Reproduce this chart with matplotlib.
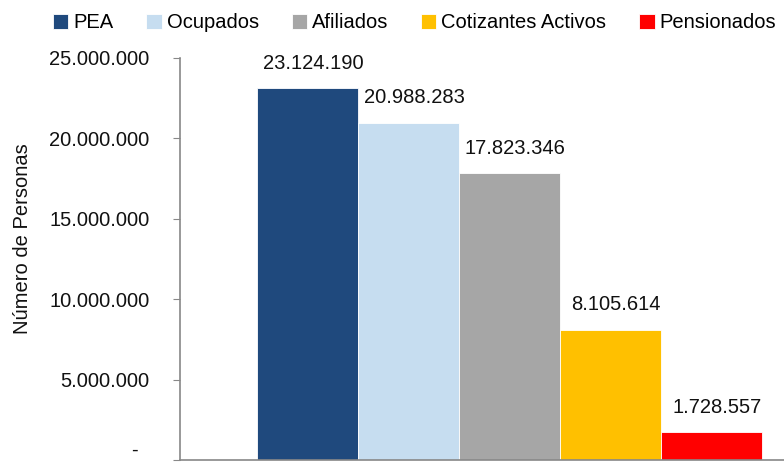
import matplotlib.pyplot as plt
import numpy as np
from matplotlib.ticker import FuncFormatter

# Datos
categorias = ["PEA", "Ocupados", "Afiliados", "Cotizantes Activos", "Pensionados"]
valores = [23124190, 20988283, 17823346, 8105614, 1728557]
colores = ["#1F497D", "#C6DDF0", "#A6A6A6", "#FFC000", "#FF0000"]
yticks = [0, 5000000, 10000000, 15000000, 20000000, 25000000]

plt.rcParams['font.family'] = ['Liberation Sans', 'DejaVu Sans']
FS = 14.5


def miles(v, pos=None):
    if v == 0:
        return "-  "
    return f"{int(v):,}".replace(",", ".")


fig = plt.figure(figsize=(7.84, 4.63), dpi=100)
ax = fig.add_axes([180 / 784, 1 - 460 / 463, 1 - 180 / 784, (460 - 58) / 463])

x = np.arange(len(categorias))
barras = ax.bar(x, valores, width=1.0, color=colores, label=categorias,
                edgecolor="white", linewidth=0.6)

for xi, v in zip(x, valores):
    ax.annotate(miles(v), (xi, v), xytext=(4, 11), textcoords="offset points",
                ha="center", va="bottom", fontsize=FS, color="#111111")

ax.set_xlim(-1.262, 4.718)
ax.set_ylim(0, 25000000)
ax.set_yticks(yticks)
ax.yaxis.set_major_formatter(FuncFormatter(miles))
ax.set_xticks([])
ax.tick_params(axis="y", labelsize=FS, length=5, pad=17, color="#888888",
               labelcolor="#111111")
# el guion del cero queda pegado al borde inferior: subirlo un poco
ax.yaxis.get_major_ticks()[0].label1.set_va("bottom")
for lado in ["top", "right"]:
    ax.spines[lado].set_visible(False)
for lado in ["left", "bottom"]:
    ax.spines[lado].set_color("#888888")
    ax.spines[lado].set_linewidth(1.2)

ax.set_ylabel("Número de Personas", fontsize=FS, color="#111111")
ax.yaxis.set_label_coords(-0.245, 0.55)

fig.legend(handles=list(barras), labels=categorias, loc="upper center",
           bbox_to_anchor=(0.529, 1.01), ncol=5, frameon=False, fontsize=FS,
           handlelength=0.75, handleheight=0.75, handletextpad=0.25, columnspacing=1.64)

fig.savefig("out.png", dpi=100)
